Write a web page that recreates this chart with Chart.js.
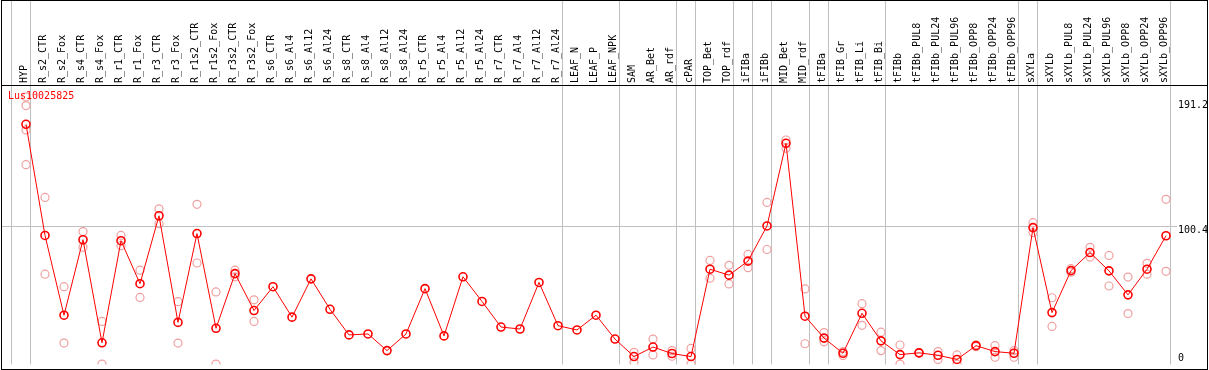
<!DOCTYPE html>
<html>
<head>
<meta charset="utf-8">
<script src="https://cdn.jsdelivr.net/npm/chart.js@4/dist/chart.umd.min.js"></script>
<style>
  html, body { margin: 0; padding: 0; background: #fff; }
  canvas { display: block; }
</style>
</head>
<body>
<canvas id="charExpression" width="1209" height="370"></canvas>
<script>
/* Datos */

const geneName = 'Lus10025825';

const samples = [
    'HYP', 'R_s2_CTR', 'R_s2_Fox', 'R_s4_CTR', 'R_s4_Fox', 'R_r1_CTR', 'R_r1_Fox', 'R_r3_CTR', 'R_r3_Fox',
    'R_r1s2_CTR', 'R_r1s2_Fox', 'R_r3s2_CTR', 'R_r3s2_Fox', 'R_s6_CTR', 'R_s6_Al4', 'R_s6_Al12', 'R_s6_Al24',
    'R_s8_CTR', 'R_s8_Al4', 'R_s8_Al12', 'R_s8_Al24', 'R_r5_CTR', 'R_r5_Al4', 'R_r5_Al12', 'R_r5_Al24',
    'R_r7_CTR', 'R_r7_Al4', 'R_r7_Al12', 'R_r7_Al24', 'LEAF_N', 'LEAF_P', 'LEAF_NPK', 'SAM', 'AR_Bet', 'AR_rdf',
    'cPAR', 'TOP_Bet', 'TOP_rdf', 'iFIBa', 'iFIBb', 'MID_Bet', 'MID_rdf', 'tFIBa', 'tFIB_Gr', 'tFIB_Li', 'tFIB_Bi',
    'tFIBb', 'tFIBb_PUL8', 'tFIBb_PUL24', 'tFIBb_PUL96', 'tFIBb_OPP8', 'tFIBb_OPP24', 'tFIBb_OPP96',
    'sXYLa', 'sXYLb', 'sXYLb_PUL8', 'sXYLb_PUL24', 'sXYLb_PUL96', 'sXYLb_OPP8', 'sXYLb_OPP24', 'sXYLb_OPP96'
];

const meanValues = [
    174.3, 93.6, 35.7, 90.5, 15.7, 89.8, 58.6, 107.9, 30.5,
    95.0, 26.2, 65.9, 39.1, 56.4, 34.3, 62.1, 40.0,
    21.4, 22.1, 10.0, 22.1, 55.0, 20.7, 63.6, 45.7,
    27.1, 25.7, 59.5, 28.1, 25.0, 35.7, 18.4, 5.7, 12.6, 7.9,
    5.7, 69.1, 64.8, 75.0, 100.5, 160.5, 35.0, 19.1, 8.1, 37.1, 17.1,
    7.1, 8.4, 6.6, 3.6, 13.6, 9.3, 8.1,
    99.3, 37.6, 68.1, 81.2, 67.9, 50.5, 69.1, 93.4
];

const rep1 = [
    194.1, 121.2, 56.4, 96.4, 31.2, 93.6, 68.4, 112.9, 45.5,
    116.2, 52.6, 68.4, 46.9, null, null, null, null,
    null, null, null, null, null, null, null, null,
    null, null, null, null, null, null, null, 8.8, 18.4, 10.0,
    11.6, 75.5, 71.9, 79.8, 117.6, 162.9, 54.8, 23.1, 9.3, 44.1, 23.4,
    14.1, 8.6, 9.3, 6.9, 14.1, 13.6, 10.0,
    102.9, 48.4, 69.5, 85.0, 79.1, 63.4, 73.4, 119.8
];

const rep2 = [
    187.9, 65.5, 15.5, 85.0, 0.2, 86.2, 48.6, 102.1, 15.5,
    73.6, 0.2, 63.6, 31.2, null, null, null, null,
    null, null, null, null, null, null, null, null,
    null, null, null, null, null, null, null, 1.6, 6.9, 5.9,
    0.2, 62.6, 58.4, 70.2, 83.4, 156.9, 15.0, 16.4, 6.4, 28.4, 10.0,
    0.2, 8.1, 3.6, 0.2, 12.9, 5.2, 5.2,
    95.7, 27.6, 66.9, 77.9, 56.9, 36.9, 65.5, 67.6
];

/* HYP tiene cuatro replicas */
const hypExtraReps = [170.2, 145.0];

const yTicks = [0, 100.4, 191.2];
const groupStarts = [0, 1, 29, 32, 35, 36, 38, 39, 40, 42, 43, 46, 53, 54, 61];

const monoFont = 'DejaVu Sans Mono';

/* Marco, separadores y textos */

const frameLines = {
    id: 'frameLines',
    beforeDraw(chart) {
        const { ctx, chartArea, scales: { x, y } } = chart;
        const step = x.getPixelForValue(1) - x.getPixelForValue(0);
        const x0 = x.getPixelForValue(0);
        ctx.save();
        ctx.fillStyle = '#c0c0c0';
        groupStarts.forEach((i) => {
            const px = Math.round(x0 + (i - 0.79) * step);
            ctx.fillRect(px, 0, 1, chartArea.bottom);
        });
        const gy = Math.round(y.getPixelForValue(100.4));
        ctx.fillRect(1, gy, 1176, 1);
        ctx.restore();
    },
    afterDraw(chart) {
        const { ctx, chartArea, scales: { y } } = chart;
        ctx.save();
        ctx.fillStyle = '#000';
        ctx.fillRect(1, 0, 1, 370);
        ctx.fillRect(1207, 0, 1, 370);
        ctx.fillRect(1, 0, 1207, 1);
        ctx.fillRect(1, 85, 1207, 1);
        ctx.fillRect(1, 369, 1207, 1);

        ctx.font = '10px "' + monoFont + '"';
        ctx.textBaseline = 'top';
        ctx.textAlign = 'left';
        yTicks.forEach((v) => {
            let py = y.getPixelForValue(v) - 1;
            py = Math.min(py, chartArea.bottom - 11);
            ctx.fillText(String(v), 1178, py);
        });

        ctx.fillStyle = '#ff0000';
        ctx.fillText(geneName, 8, 91);
        ctx.restore();
    }
};

graphicExpression = () => {
    const cex = document.getElementById('charExpression');
    const charExpression = new Chart(cex, {
        type: 'line',
        data: {
            labels: samples,
            datasets: [{
                data: meanValues,
                borderColor: '#ff0000',
                borderWidth: 1,
                tension: 0,
                pointRadius: 4,
                pointBorderWidth: 1.6,
                pointBorderColor: '#ff0000',
                pointBackgroundColor: 'rgba(0,0,0,0)',
            }, {
                data: rep1,
                showLine: false,
                pointRadius: 4,
                pointBorderWidth: 1.2,
                pointBorderColor: '#f0a0a0',
                pointBackgroundColor: 'rgba(0,0,0,0)',
            }, {
                data: rep2,
                showLine: false,
                pointRadius: 4,
                pointBorderWidth: 1.2,
                pointBorderColor: '#f0a0a0',
                pointBackgroundColor: 'rgba(0,0,0,0)',
            }, {
                data: hypExtraReps.map((v) => ({ x: samples[0], y: v })),
                showLine: false,
                pointRadius: 4,
                pointBorderWidth: 1.2,
                pointBorderColor: '#f0a0a0',
                pointBackgroundColor: 'rgba(0,0,0,0)',
            }, ],
        },
        options: {
            responsive: false,
            animation: false,
            layout: {
                padding: { left: 16.5, right: 0, top: 0, bottom: 1 },
            },
            scales: {
                x: {
                    position: 'top',
                    offset: true,
                    grid: { display: false, drawTicks: false },
                    border: { display: false },
                    ticks: {
                        autoSkip: false,
                        minRotation: 90,
                        maxRotation: 90,
                        padding: 3,
                        labelOffset: 10,
                        color: '#000',
                        font: { family: monoFont, size: 10 },
                    },
                    afterFit: (scale) => { scale.height = 86; },
                },
                y: {
                    position: 'right',
                    min: 0,
                    max: 202.1,
                    afterBuildTicks: (scale) => {
                        scale.ticks = yTicks.map((v) => ({ value: v }));
                    },
                    grid: { display: false, drawTicks: false },
                    border: { display: false },
                    ticks: { display: false },
                    afterFit: (scale) => { scale.width = 33.5; },
                },
            },
            plugins: {
                legend: { display: false },
                tooltip: { enabled: false },
            },
        },
        plugins: [frameLines],
    });
};

graphicExpression();
</script>
</body>
</html>
